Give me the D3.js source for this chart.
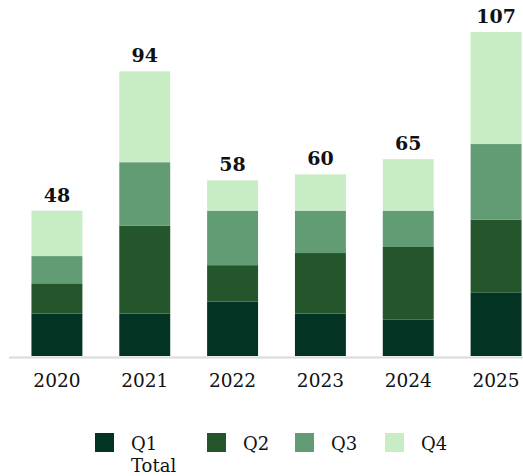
<!DOCTYPE html>
<html>
<head>
<meta charset="utf-8">
<script src="https://cdn.jsdelivr.net/npm/d3@7"></script>
<style>
  html, body { margin: 0; padding: 0; background: #fff; }
  svg { display: block; font-family: Georgia, "DejaVu Serif", serif; }
</style>
</head>
<body>
<svg id="chart" width="523" height="476"></svg>
<script>
const years = ["2020", "2021", "2022", "2023", "2024", "2025"];
const q1 = [14, 14, 18, 14, 12, 21];
const q2 = [10, 29, 12, 20, 24, 24];
const q3 = [9, 21, 18, 14, 12, 25];
const q4 = [15, 30, 10, 12, 17, 37];
const totals = [48, 94, 58, 60, 65, 107];
const seriesNames = ["Q1", "Q2", "Q3", "Q4"];
const seriesColors = ["#023323", "#24552b", "#629c75", "#c8ecc4"];

const rows = years.map((y, i) => ({ year: y, Q1: q1[i], Q2: q2[i], Q3: q3[i], Q4: q4[i], total: totals[i] }));

const svg = d3.select("#chart");
const x = d3.scaleBand().domain(years).range([13, 540]).paddingInner(0.42).paddingOuter(0.21);
const y = d3.scaleLinear().domain([0, 107]).range([356, 32]);
const color = d3.scaleOrdinal().domain(seriesNames).range(seriesColors);

const stack = d3.stack().keys(seriesNames)(rows);

svg.append("g").selectAll("g").data(stack).join("g")
  .attr("fill", d => color(d.key))
  .selectAll("rect").data(d => d).join("rect")
  .attr("x", d => x(d.data.year))
  .attr("width", x.bandwidth())
  .attr("y", d => y(d[1]))
  .attr("height", d => y(d[0]) - y(d[1]));

// baseline axis line
svg.append("line")
  .attr("x1", 9).attr("x2", 523)
  .attr("y1", y(0) + 1.5).attr("y2", y(0) + 1.5)
  .attr("stroke", "#d9d9d9").attr("stroke-width", 2);

// x axis labels
const xAxis = d3.axisBottom(x).tickSize(0).tickPadding(0);
const gx = svg.append("g").attr("transform", `translate(0, ${y(0)})`).call(xAxis);
gx.select(".domain").remove();
gx.selectAll("text")
  .attr("dy", null)
  .attr("y", 31)
  .attr("font-family", 'Georgia, "DejaVu Serif", serif')
  .attr("font-size", 18.5)
  .attr("fill", "#111");

// total labels
svg.append("g").selectAll("text").data(rows).join("text")
  .attr("x", d => x(d.year) + x.bandwidth() / 2)
  .attr("y", d => y(d.total) - 9)
  .attr("text-anchor", "middle")
  .attr("font-size", 19)
  .attr("font-weight", "bold")
  .attr("fill", "#111")
  .text(d => d.total);

// legend
const legendX = [95, 207, 295, 385];
const lg = svg.append("g").selectAll("g").data(seriesNames).join("g")
  .attr("transform", (d, i) => `translate(${legendX[i]}, 433)`);
lg.append("rect").attr("width", 19).attr("height", 19).attr("fill", d => color(d));
lg.append("text").attr("x", 36).attr("y", 17)
  .attr("font-size", 18).attr("fill", "#111").text(d => d);

svg.append("text").attr("x", legendX[0] + 36).attr("y", 472)
  .attr("font-size", 18).attr("fill", "#111").text("Total");
</script>
</body>
</html>
